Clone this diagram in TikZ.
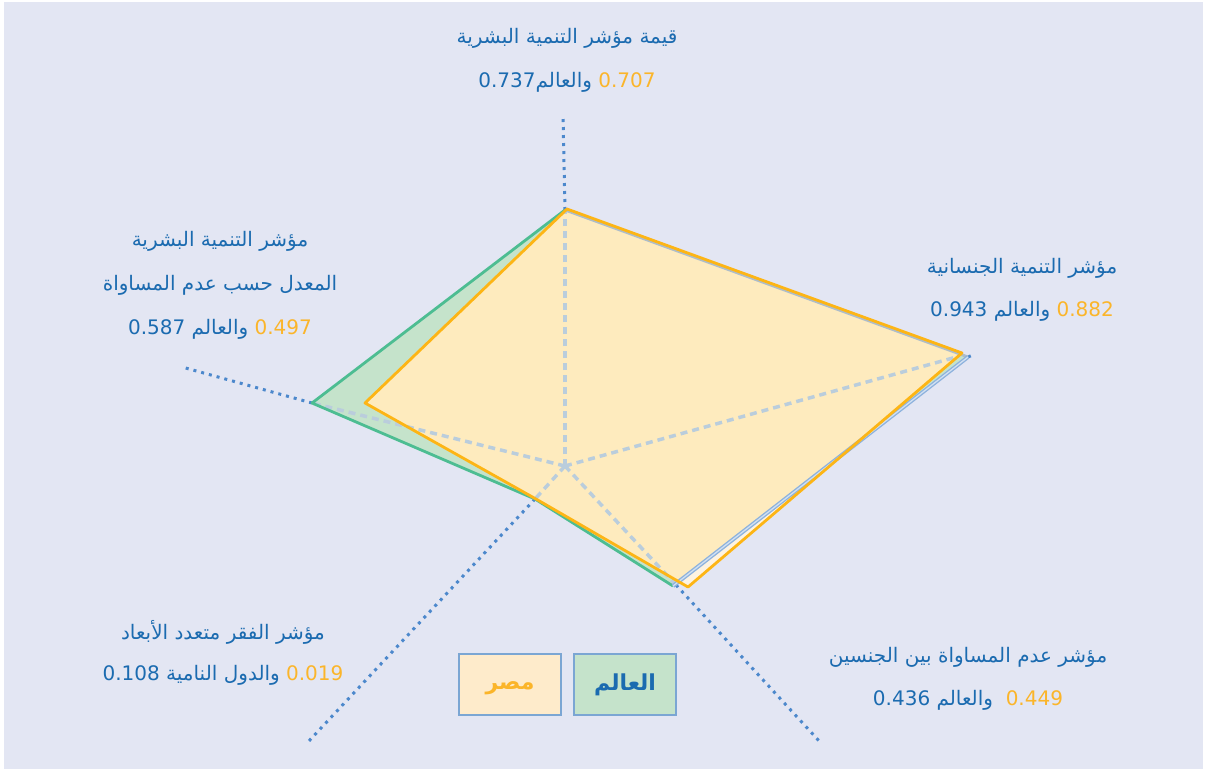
\documentclass[tikz,border=0pt]{standalone}
\usepackage{fontspec}
\setmainfont{DejaVu Sans}
\newfontfamily\arabicfont[Script=Arabic]{DejaVu Sans}
\TeXXeTstate=1
\definecolor{bgc}{HTML}{E3E6F3}
\definecolor{tblue}{HTML}{1B6BB0}
\definecolor{torange}{HTML}{FBB52A}
\definecolor{lyellow}{HTML}{FDB515}
\definecolor{lgreen}{HTML}{4DBD92}
\definecolor{fgreen}{HTML}{C5E3CB}
\definecolor{fyellow}{HTML}{FEEBBE}
\definecolor{fcream}{HTML}{FDF3E2}
\definecolor{axblue}{HTML}{4C88CC}
\definecolor{spoke}{HTML}{BACDDC}
\definecolor{wright}{HTML}{8DB2DD}
\definecolor{lborder}{HTML}{7BA6D3}
\definecolor{fegypt}{HTML}{FEEBCB}
\tikzset{
  lbl/.style={font=\fontsize{20}{24}\selectfont, text=tblue, inner sep=0pt, anchor=center},
  axisline/.style={axblue, line width=3pt, dash pattern=on 3pt off 5pt},
  spokeline/.style={spoke, line width=3.5pt, dash pattern=on 7pt off 5pt},
  legbox/.style={draw=lborder, line width=1.5pt, minimum width=102pt, minimum height=61pt, inner sep=0pt},
  legtext/.style={font=\fontsize{22}{26}\selectfont\bfseries, inner sep=0pt},
}
\newcommand{\ar}[1]{{\arabicfont\beginR #1\endR}}
\begin{document}
\begin{tikzpicture}[x=1pt,y=-1pt]
\useasboundingbox (0,0) rectangle (1206,771);
\fill[white] (0,0) rectangle (1206,771);
\fill[bgc] (4,2) rectangle (1203,769);
% coordinates
\coordinate (C) at (565,466);
\coordinate (WT) at (565,210);
\coordinate (WR) at (968,357);
\coordinate (WB) at (673,586);
\coordinate (WLL) at (535,499);
\coordinate (WL) at (312,403);
\coordinate (ET) at (567,209);
\coordinate (ER) at (962,353);
\coordinate (EB) at (688,587);
\coordinate (ELL) at (536,499);
\coordinate (EL) at (365,403);
\coordinate (AT) at (563,115);
\coordinate (AR) at (975,354);
\coordinate (ALR) at (820,742);
\coordinate (ALL) at (308,742);
\coordinate (AL) at (182,367);
\coordinate (SR) at (960,356);
\coordinate (SB) at (676,585);
% fills
\fill[fcream] (ET)--(ER)--(EB)--(ELL)--(EL)--cycle;
\fill[fgreen] (WT)--(WR)--(WB)--(WLL)--(WL)--cycle;
\begin{scope}
\clip (ET)--(ER)--(EB)--(ELL)--(EL)--cycle;
\fill[fyellow] (WT)--(WR)--(WB)--(WLL)--(WL)--cycle;
\end{scope}
% spokes
\draw[spokeline] (C)--(WT);
\draw[spokeline] (C)--(SR);
\draw[spokeline] (C)--(SB);
\draw[spokeline] (C)--(WLL);
\draw[spokeline] (C)--(WL);
% axes
\draw[axisline] (WT)--(AT);
\draw[axisline] (WR)--(AR);
\draw[axisline] (SB)--(ALR);
\draw[axisline] (WLL)--(ALL);
\draw[axisline] (WL)--(AL);
% world edges
\draw[lgreen, line width=2.8pt, line join=round] (WT)--(WL)--(WLL)--(WB);
\draw[spoke!80!gray, line width=2.8pt] (WT)--(WR);
\draw[wright, line width=4pt] (WR)--(WB);
\draw[white!60!wright, line width=1.3pt] (WR)--(WB);
% egypt edges
\draw[lyellow, line width=2.8pt, line join=round] (ET)--(ER)--(EB)--(ELL)--(EL)--cycle;
% labels
\node[lbl] (t1) at (567,38) {\ar{قيمة مؤشر التنمية البشرية}};
\node[lbl] (t2) at (567,82) {0.737\ar{والعالم} \textcolor{torange}{0.707}};
\node[lbl] (r1) at (1022,268) {\ar{مؤشر التنمية الجنسانية}};
\node[lbl] (r2) at (1022,311) {0.943 \ar{والعالم} \textcolor{torange}{0.882}};
\node[lbl] (l1) at (220,241) {\ar{مؤشر التنمية البشرية}};
\node[lbl] (l2) at (220,285) {\ar{المعدل حسب عدم المساواة}};
\node[lbl] (l3) at (220,329) {0.587 \ar{والعالم} \textcolor{torange}{0.497}};
\node[lbl] (b1) at (223,632) {\ar{مؤشر الفقر متعدد الأبعاد}};
\node[lbl] (b2) at (223,675) {0.108 \ar{والدول النامية} \textcolor{torange}{0.019}};
\node[lbl] (c1) at (968,657) {\ar{مؤشر عدم المساواة بين الجنسين}};
\node[lbl] (c2) at (968,700) {0.436 \ar{والعالم}\ \ \textcolor{torange}{0.449}};
% legend
\node[legbox, fill=fegypt] (legE) at (510,684.5) {};
\node[legbox, fill=fgreen] (legW) at (625,684.5) {};
\node[legtext, text=torange] (legEt) at (510,688) {\ar{مصر}};
\node[legtext, text=tblue] (legWt) at (625,685) {\ar{العالم}};
\end{tikzpicture}
\end{document}
